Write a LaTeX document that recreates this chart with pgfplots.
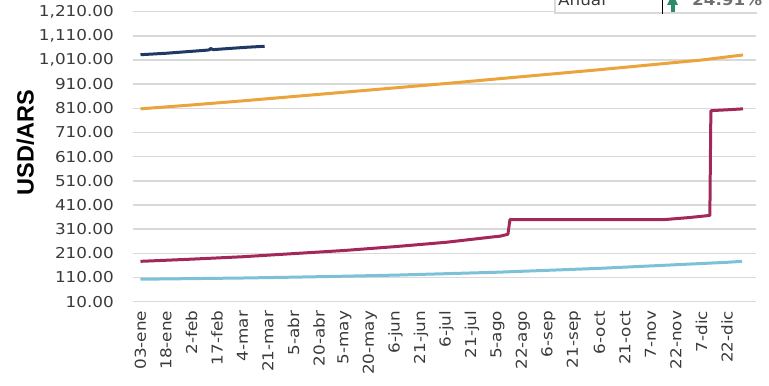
\documentclass[border=0pt]{standalone}
\usepackage{pgfplots}
\pgfplotsset{compat=1.18}
\usepackage{fontspec}
\setmainfont{DejaVu Sans}[FakeStretch=1.12]
\newfontfamily\ylabfont{Liberation Sans}
\definecolor{navyc}{HTML}{203864}
\definecolor{orangec}{HTML}{EBA33C}
\definecolor{crimsonc}{HTML}{A3285A}
\definecolor{bluec}{HTML}{7DC1D9}
\definecolor{gridc}{HTML}{D9D9D9}
\definecolor{tickc}{HTML}{3A3A3A}
\definecolor{greenc}{HTML}{2E8B6A}
\definecolor{pctc}{HTML}{6F6F6F}

\pgfplotstableread{
x y
0 1032
0.5 1035
1 1038
1.5 1042
2 1046
2.5 1050
2.7 1052
2.75 1058
2.85 1053
3.5 1058
4.2 1063
4.87 1067
}\navydata

\pgfplotstableread{
x y
0 808
2 824
4 841
6 859
8 877
10 895
12 913
14 932
16 951
18 970
20 990
22 1010
23.63 1031
}\orangedata

\pgfplotstableread{
x y
0 177
2 186
4 196
6 209
8 222
10 238
12 256
13.9 279
14.1 281
14.41 289
14.49 350
20.57 350
21.5 358
22.33 367
22.37 800
22.45 801
23 804
23.63 808
}\crimsondata

\pgfplotstableread{
x y
0 103
2 105.5
4 108
6 111.5
8 115.5
10 120
12 126
14 132
16 140
18 148
20 158
22 168
23 173
23.59 177
}\bluedata

\begin{document}
\begin{tikzpicture}
\useasboundingbox (0bp,0bp) rectangle (769bp,386bp);
\clip (0bp,0bp) rectangle (769bp,386bp);
\begin{axis}[
  at={(133bp,84.3bp)}, anchor=south west,
  scale only axis, width=623bp, height=290bp,
  xmin=-0.294, xmax=24.14, ymin=10, ymax=1210,
  ytick={10,110,...,1210},
  xtick={0,...,23},
  xticklabels={03-ene,18-ene,2-feb,17-feb,4-mar,21-mar,5-abr,20-abr,5-may,20-may,6-jun,21-jun,6-jul,21-jul,5-ago,22-ago,6-sep,21-sep,6-oct,21-oct,7-nov,22-nov,7-dic,22-dic},
  axis line style={draw=none},
  major tick length=0pt,
  ymajorgrids, xmajorgrids=false,
  grid style={color=gridc, line width=1.5bp},
  /pgf/number format/assume math mode=true,
  y tick label style={/pgf/number format/fixed, /pgf/number format/fixed zerofill, /pgf/number format/precision=2, /pgf/number format/1000 sep={,}},
  tick label style={font=\fontsize{15bp}{15bp}\selectfont, text=tickc},
  xticklabel style={rotate=90, anchor=east, inner sep=0pt},
  xticklabel shift=9bp,
  yticklabel style={anchor=east, inner sep=0pt},
  yticklabel shift=19bp,
  ylabel={USD/ARS},
  ylabel style={at={(axis description cs:-0.1726,0.549)}, anchor=center, rotate=0,
    font=\ylabfont\bfseries\fontsize{23.5bp}{23.5bp}\selectfont, text=black},
  every axis plot/.append style={line width=3bp, no markers, line join=round},
]
\addplot[color=bluec] table {\bluedata};
\addplot[color=crimsonc] table {\crimsondata};
\addplot[color=orangec] table {\orangedata};
\addplot[color=navyc] table {\navydata};
\end{axis}
% partial summary box at top right
\fill[white] (555bp,373bp) rectangle (769bp,390bp);
\draw[gridc, line width=1.5bp] (555bp,390bp) -- (555bp,373bp) -- (757bp,373bp);
\draw[black, line width=1bp] (662.7bp,390bp) -- (662.7bp,372bp);
\fill[greenc] (667bp,381bp) -- (678bp,381bp) -- (672.5bp,392bp) -- cycle;
\fill[greenc] (670.5bp,381.5bp) rectangle (674.5bp,374bp);
\node[anchor=base west, inner sep=0pt, text=tickc, font=\fontsize{15bp}{15bp}\selectfont] at (558bp,380bp) {Anual};
\node[anchor=base west, inner sep=0pt, text=pctc, font=\bfseries\fontsize{15bp}{15bp}\selectfont] at (692bp,380bp) {24.91\%};
\end{tikzpicture}
\end{document}
